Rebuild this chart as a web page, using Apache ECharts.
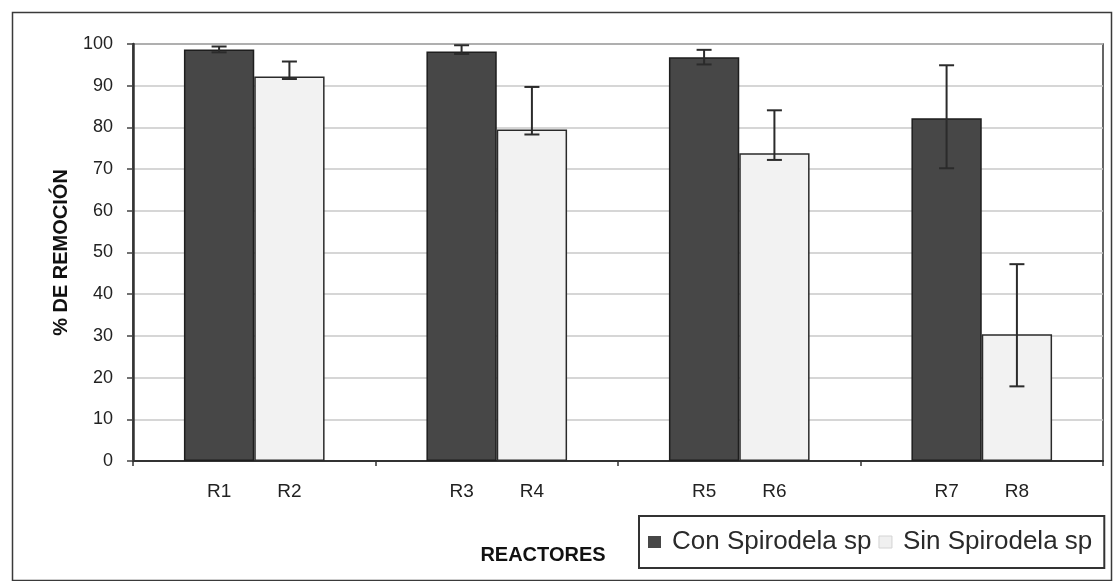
<!DOCTYPE html>
<html>
<head>
<meta charset="utf-8">
<script src="https://cdn.jsdelivr.net/npm/echarts@6/dist/echarts.min.js"></script>
<style>html,body{margin:0;padding:0;background:#fff;}#c{width:1116px;height:581px;}</style>
</head>
<body>
<div id="c"></div>
<script>
const groups = ["R1-R2", "R3-R4", "R5-R6", "R7-R8"];
const conNames = ["R1", "R3", "R5", "R7"];
const sinNames = ["R2", "R4", "R6", "R8"];
const conValues = [98.7, 98.2, 96.8, 82.2];
const sinValues = [92.2, 79.5, 73.8, 30.4];
const conErrLow = [98.0, 97.6, 95.1, 70.2];
const conErrHigh = [99.4, 99.7, 98.6, 94.9];
const sinErrLow = [91.6, 78.3, 72.2, 17.9];
const sinErrHigh = [95.8, 89.7, 84.1, 47.2];
const yTicks = [0, 10, 20, 30, 40, 50, 60, 70, 80, 90, 100];

const CAT_GAP = 0.42;
const FONT = 'Arial, "Liberation Sans", sans-serif';

function errRender(sign) {
  return function (params, api) {
    const idx = api.value(0);
    const base = api.coord([idx, 0]);
    const band = api.size([1, 0])[0];
    const barW = band * (1 - CAT_GAP) / 2;
    const cx = base[0] + sign * barW / 2;
    const yLo = api.coord([idx, api.value(1)])[1];
    const yHi = api.coord([idx, api.value(2)])[1];
    const cap = 7.5;
    const style = { stroke: '#2b2b2b', lineWidth: 2 };
    return {
      type: 'group',
      children: [
        { type: 'line', shape: { x1: cx, y1: yLo, x2: cx, y2: yHi }, style: style },
        { type: 'line', shape: { x1: cx - cap, y1: yHi, x2: cx + cap, y2: yHi }, style: style },
        { type: 'line', shape: { x1: cx - cap, y1: yLo, x2: cx + cap, y2: yLo }, style: style }
      ]
    };
  };
}

const chart = echarts.init(document.getElementById('c'), null, { renderer: 'canvas' });
chart.setOption({
  backgroundColor: '#ffffff',
  animation: false,
  graphic: [{
    type: 'rect', left: 10, top: 10, silent: true, z: -1,
    shape: { width: 1099, height: 568 },
    style: { fill: 'none', stroke: '#3a3a3a', lineWidth: 1.5 }
  }],
  grid: {
    left: 133, top: 44, right: 13, bottom: 120,
    show: true, borderColor: '#333', borderWidth: 1.5, backgroundColor: 'transparent'
  },
  legend: {
    left: 639, top: 516,
    orient: 'horizontal',
    borderColor: '#333', borderWidth: 2,
    padding: [13, 12, 13, 9],
    itemWidth: 13, itemHeight: 12, itemGap: 7,
    icon: 'rect',
    textStyle: { fontSize: 26, fontFamily: FONT, color: '#2a2a2a', padding: [0, 0, 0, 6] },
    data: [
      { name: 'Con Spirodela sp', itemStyle: { color: '#474747', borderColor: '#474747', borderWidth: 0 } },
      { name: 'Sin Spirodela sp', itemStyle: { color: '#f0f0f0', borderColor: '#d4d4d4', borderWidth: 1 } }
    ]
  },
  xAxis: {
    type: 'category',
    data: groups,
    name: 'REACTORES',
    nameLocation: 'middle',
    nameGap: 84,
    nameTextStyle: { fontSize: 20, fontWeight: 'bold', fontFamily: FONT, color: '#111', padding: [0, 150, 0, 0] },
    axisLine: { lineStyle: { color: '#333', width: 2 } },
    axisTick: { show: true, length: 5, lineStyle: { color: '#333', width: 1.5 } },
    axisLabel: { show: false },
    splitLine: { show: false }
  },
  yAxis: {
    type: 'value',
    min: 0, max: 100, interval: 10,
    name: '% DE REMOCIÓN',
    nameLocation: 'middle',
    nameGap: 62,
    nameRotate: 90,
    nameTextStyle: { fontSize: 20, fontWeight: 'bold', fontFamily: FONT, color: '#111' },
    axisLine: { show: true, lineStyle: { color: '#333', width: 2.5 } },
    axisTick: { show: true, length: 6, lineStyle: { color: '#444', width: 1.5 } },
    axisLabel: {
      fontSize: 18, fontFamily: FONT, color: '#222', margin: 20,
      formatter: function (v) { return yTicks.indexOf(v) >= 0 ? String(v) : ''; }
    },
    splitLine: { show: true, lineStyle: { color: '#c8c8c8', width: 1.5 } }
  },
  series: [
    {
      name: 'Con Spirodela sp',
      type: 'bar',
      data: conValues,
      barGap: '0%',
      barCategoryGap: (CAT_GAP * 100) + '%',
      itemStyle: { color: '#474747', borderColor: '#1e1e1e', borderWidth: 1.5 },
      label: {
        show: true, position: ['50%', '100%'], offset: [0, 21],
        align: 'center', verticalAlign: 'top',
        fontSize: 19, fontFamily: FONT, color: '#222',
        formatter: function (p) { return conNames[p.dataIndex]; }
      },
      z: 2
    },
    {
      name: 'Sin Spirodela sp',
      type: 'bar',
      data: sinValues,
      barGap: '0%',
      barCategoryGap: (CAT_GAP * 100) + '%',
      itemStyle: { color: '#f2f2f2', borderColor: '#2a2a2a', borderWidth: 1.5 },
      label: {
        show: true, position: ['50%', '100%'], offset: [0, 21],
        align: 'center', verticalAlign: 'top',
        fontSize: 19, fontFamily: FONT, color: '#222',
        formatter: function (p) { return sinNames[p.dataIndex]; }
      },
      z: 2
    },
    {
      type: 'custom',
      name: 'errCon',
      renderItem: errRender(-1),
      encode: { x: 0, y: [1, 2] },
      data: groups.map(function (g, i) { return [i, conErrLow[i], conErrHigh[i]]; }),
      z: 5
    },
    {
      type: 'custom',
      name: 'errSin',
      renderItem: errRender(1),
      encode: { x: 0, y: [1, 2] },
      data: groups.map(function (g, i) { return [i, sinErrLow[i], sinErrHigh[i]]; }),
      z: 5
    }
  ]
});
</script>
</body>
</html>
